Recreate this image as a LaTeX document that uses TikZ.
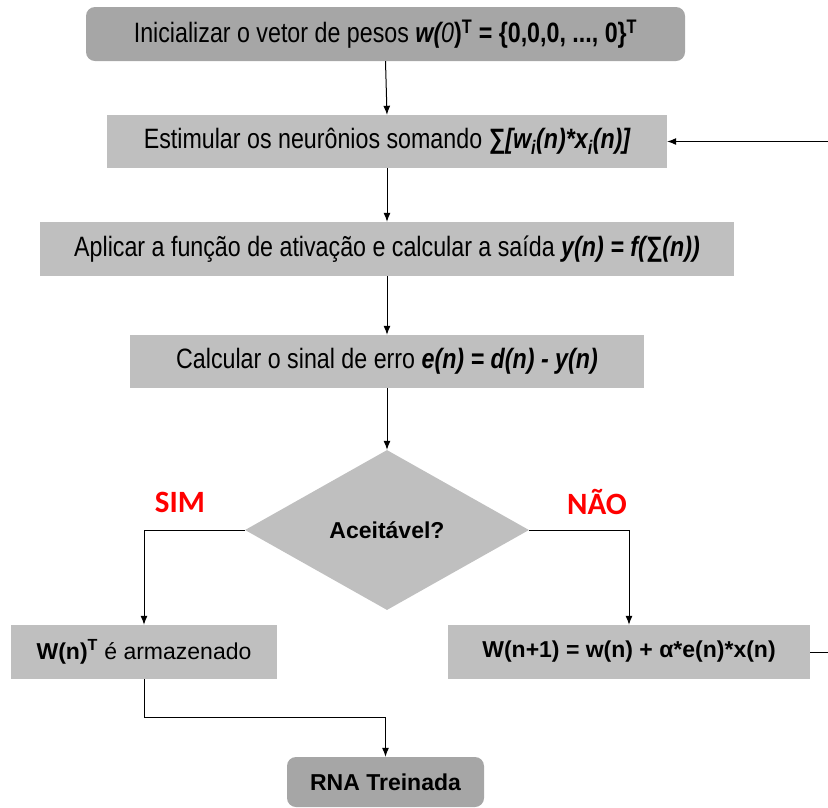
\documentclass[tikz,border=0pt]{standalone}
\usepackage{fontspec}
\setmainfont{Liberation Sans}
\newfontfamily\narrowfont{Liberation Sans}[FakeStretch=0.83]
\newfontfamily\labelfont{Carlito}
\usetikzlibrary{arrows.meta,shapes.geometric}

\definecolor{boxgray}{HTML}{BFBFBF}
\definecolor{termgray}{HTML}{A6A6A6}
\definecolor{flagred}{HTML}{FF0000}

\tikzset{
  procbox/.style={rectangle, fill=boxgray, inner sep=0pt, align=center,
    font=\narrowfont\fontsize{28}{31}\selectfont},
  termbox/.style={rectangle, rounded corners=9pt, fill=termgray, inner sep=0pt, align=center},
  decbox/.style={diamond, fill=boxgray, inner sep=0pt, aspect=1.775,
    font=\bfseries\fontsize{23}{26}\selectfont},
  plainbox/.style={rectangle, fill=boxgray, inner sep=0pt, align=center,
    font=\fontsize{23}{26}\selectfont},
  flag/.style={text=flagred, font=\labelfont\bfseries\fontsize{31}{34}\selectfont},
  conn/.style={line width=1pt, draw=black},
  arr/.style={conn, -{Latex[length=9pt,width=7pt]}}
}

\begin{document}
\begin{tikzpicture}[x=1pt,y=-1pt]
\useasboundingbox (0,0) rectangle (828,807);
\clip (0,0) rectangle (828,807);

% process steps
\node[termbox, minimum width=599pt, minimum height=54pt,
      font=\narrowfont\fontsize{28}{31}\selectfont] (init) at (385.5,34)
  {Inicializar o vetor de pesos {\bfseries\itshape w(}{\itshape 0}{\bfseries )\textsuperscript{T} = \{0,0,0, ..., 0\}\textsuperscript{T}}};
\node[procbox, minimum width=560pt, minimum height=53pt] (estim) at (387,141.5)
  {Estimular os neurônios somando {\bfseries\itshape ∑[w\textsubscript{i}(n)*x\textsubscript{i}(n)]}};
\node[procbox, minimum width=694pt, minimum height=54pt] (aplic) at (387,249)
  {Aplicar a função de ativação e calcular a saída {\bfseries\itshape y(n) = f(∑(n))}};
\node[procbox, minimum width=514pt, minimum height=53pt] (calc) at (387,361.5)
  {Calcular o sinal de erro {\bfseries\itshape e(n) = d(n) - y(n)}};

% decision
\node[decbox, minimum width=284pt, minimum height=160pt] (dec) at (387,530) {Aceitável?};
\node[flag] (sim) at (180,502) {SIM};
\node[flag] (nao) at (597,502) {NÃO};

% outcomes
\node[plainbox, minimum width=266pt, minimum height=54pt] (store) at (144,652)
  {\textbf{W(n)\textsuperscript{T}} é armazenado};
\node[plainbox, minimum width=362pt, minimum height=54pt, font=\bfseries\fontsize{23}{26}\selectfont] (update) at (629,652)
  {W(n+1) = w(n) + α*e(n)*x(n)};
\node[termbox, minimum width=197pt, minimum height=50pt,
      font=\bfseries\fontsize{23}{26}\selectfont] (rna) at (385.5,782) {RNA Treinada};

% junction points
\coordinate (join) at (144,717);
\coordinate (loopB) at (845,652);
\coordinate (loopT) at (845,141.5);

% connectors
\draw[arr] (init.south) -- (estim.north);
\draw[arr] (estim.south) -- (aplic.north);
\draw[arr] (aplic.south) -- (calc.north);
\draw[arr] (calc.south) -- (dec.north);
\draw[arr] (dec.west) -| (store.north);
\draw[arr] (dec.east) -| (update.north);
\draw[conn] (store.south) -- (join);
\draw[arr] (join) -| (rna.north);
\draw[arr] (update.east) -- (loopB) -- (loopT) -- (estim.east);
\end{tikzpicture}
\end{document}
